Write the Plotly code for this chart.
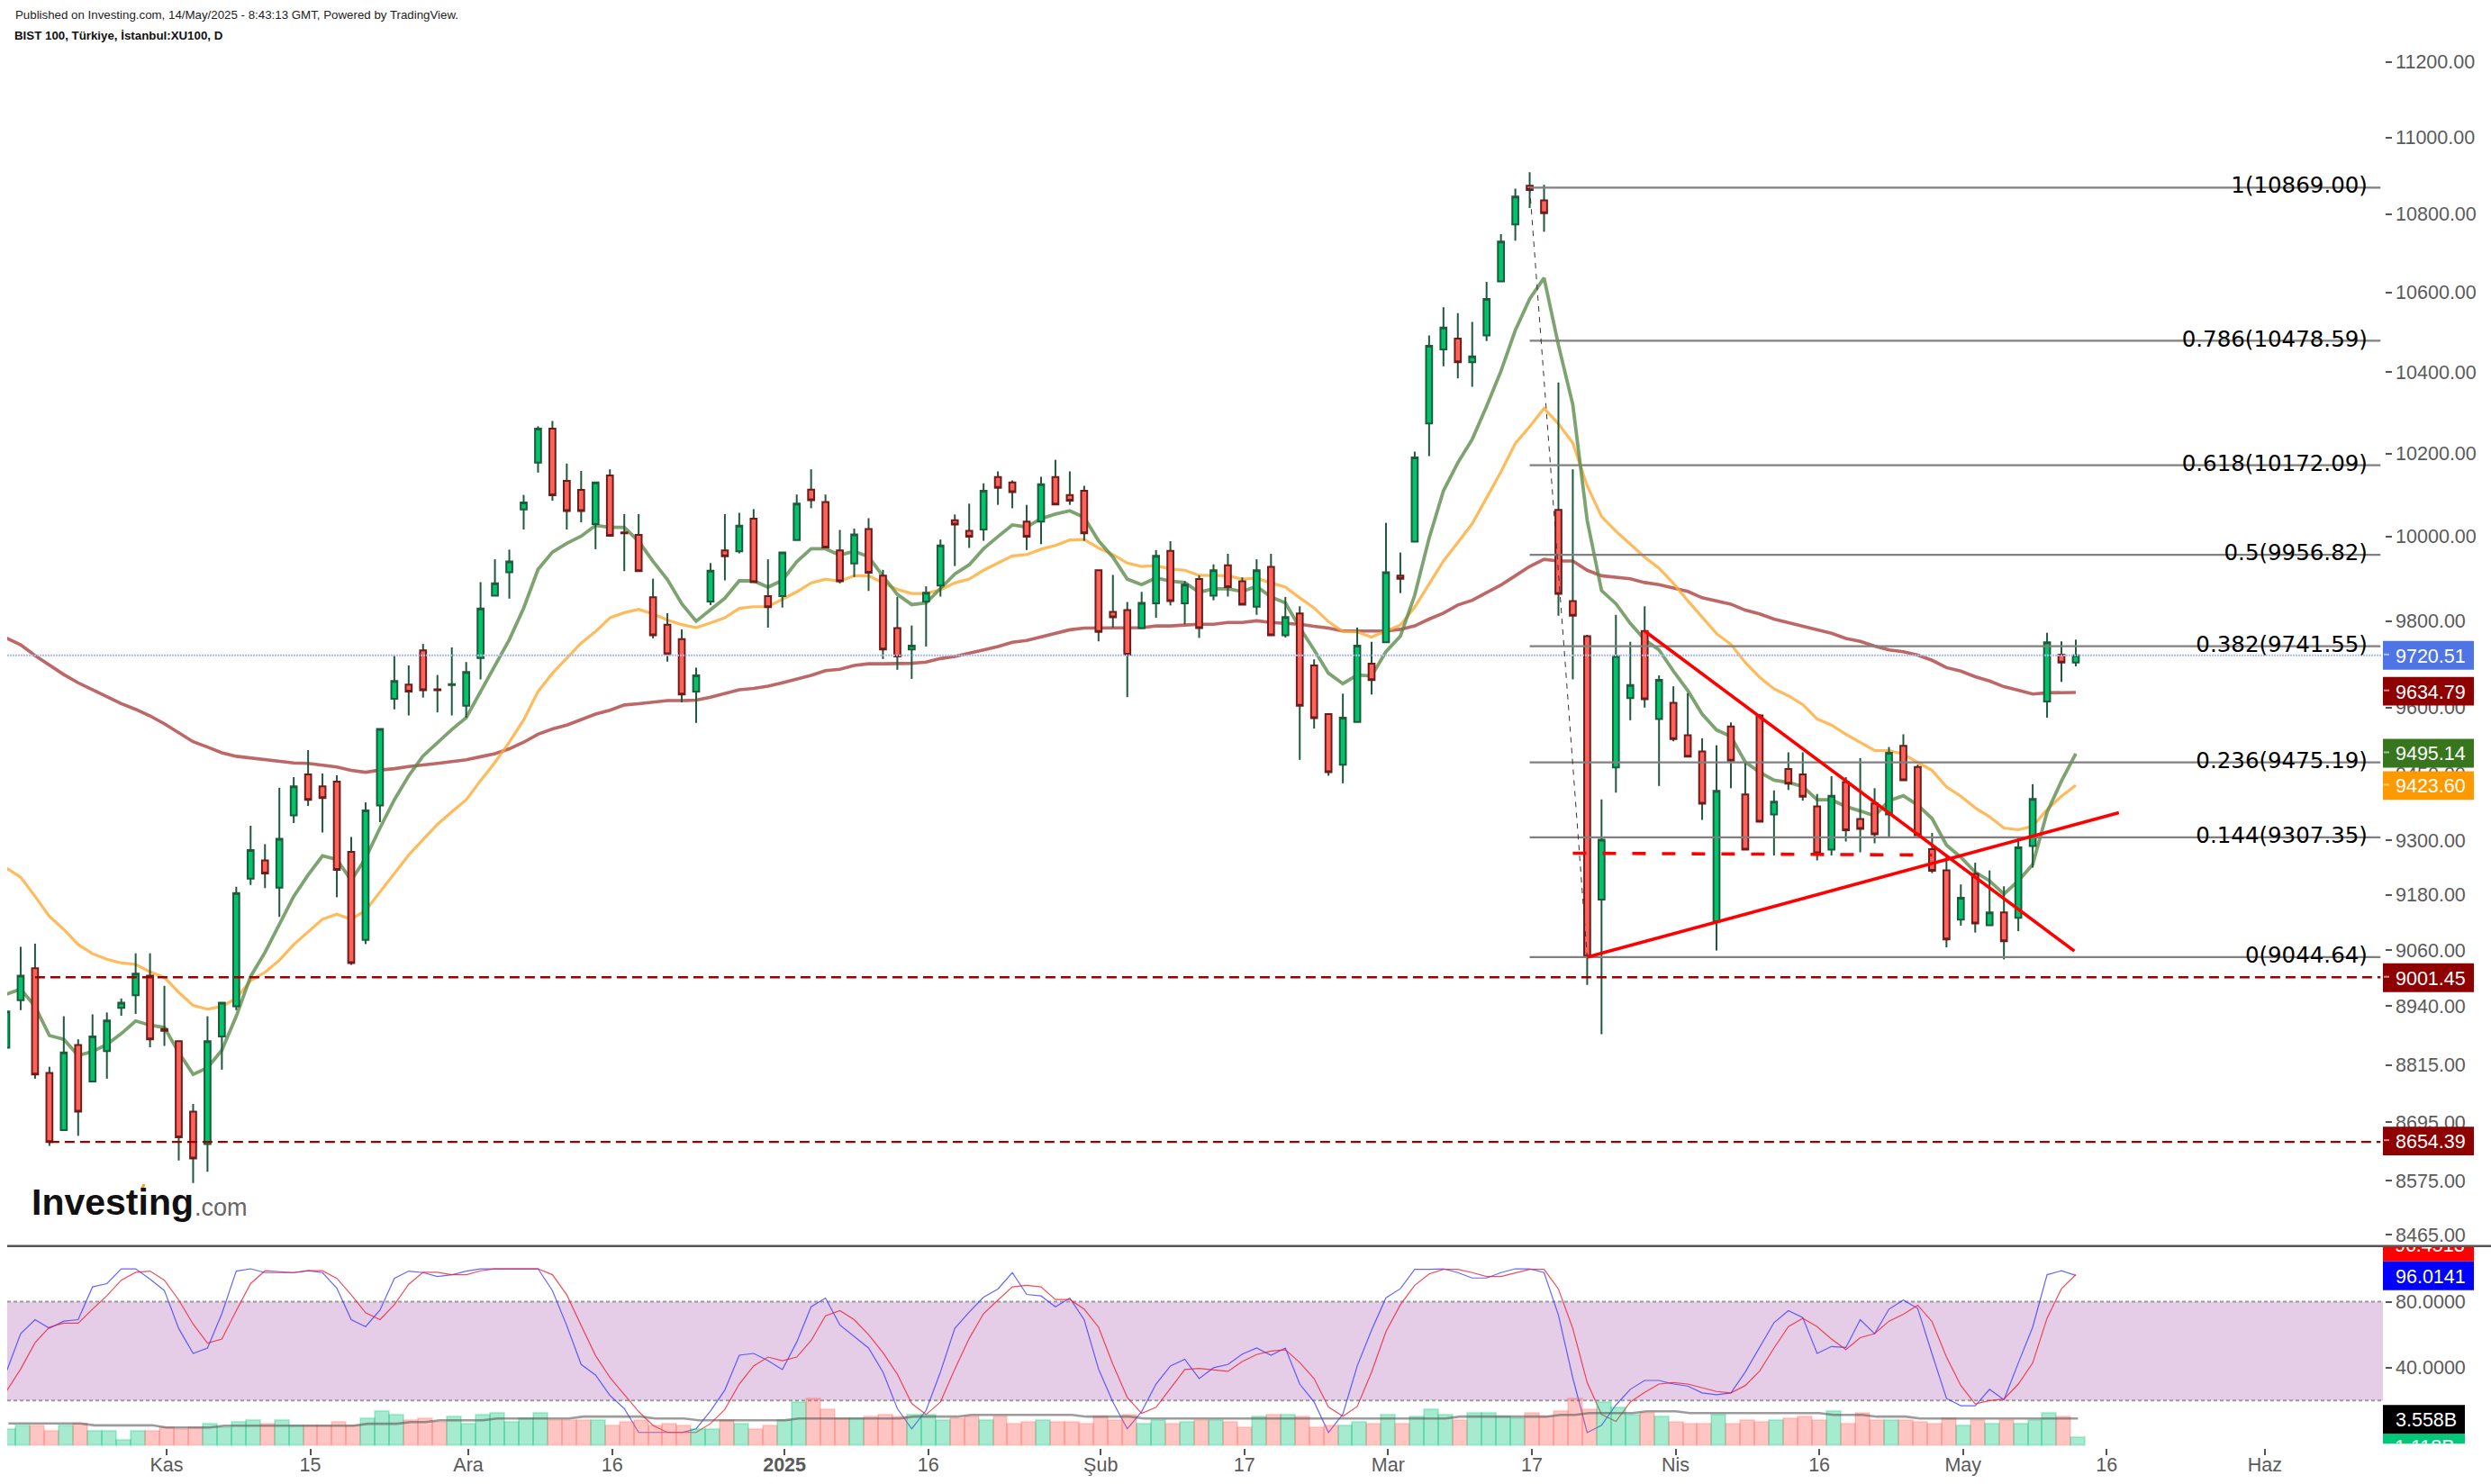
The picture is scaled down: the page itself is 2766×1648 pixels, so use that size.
import math
import plotly.graph_objects as go

W, H = 2766, 1648
opens = [8851,8952,9021,8798,8679,8857,8780,8844,8936,8963,9005,8891,8865,8717,8650,8875,8939,9216,9256,9196,
9356,9448,9421,9432,9275,9082,9378,9620,9653,9732,9642,9652,9604,9714,9860,9915,10065,10178,10261,10134,
10112,10030,10147,10010,10004,9856,9792,9758,9637,9846,9967,9965,10043,9859,9859,9992,10113,10083,9967,9936,
10018,9907,9784,9734,9846,9884,10039,10014,10017,10143,10130,10036,10036,10143,10100,10110,9920,9822,9826,9784,
9842,9966,9842,9899,9860,9932,9894,9834,9928,9767,9818,9697,9585,9470,9567,9701,9751,9907,9988,10274,
10457,10484,10425,10492,10628,10774,10874,10836,10064,9847,9765,9170,9464,9622,9777,9574,9611,9537,9500,9122,
9557,9403,9582,9358,9460,9448,9376,9280,9431,9348,9383,9358,9513,9465,9281,9234,9126,9226,9114,9142,
9130,9288,9614,9722,9704]
highs = [8960,9067,9074,8811,8918,8869,8922,8926,8956,9053,9053,8983,8866,8733,8918,8947,9198,9333,9292,9418,
9442,9503,9450,9446,9308,9385,9551,9722,9697,9747,9675,9739,9705,9892,9946,9969,10100,10267,10280,10176,
10158,10130,10162,10054,10054,9900,9819,9781,9692,9937,10054,10057,10066,9946,9963,10101,10162,10101,10016,10019,
10044,9921,9857,9790,9882,9993,10053,10079,10128,10157,10135,10076,10144,10185,10157,10122,9921,9909,9845,9869,
9968,9989,9894,9908,9934,9959,9903,9946,9959,9857,9835,9711,9586,9632,9785,9752,10033,9962,10205,10492,
10563,10548,10526,10627,10749,10866,10909,10876,10375,10162,9768,9392,9815,9752,9835,9674,9649,9633,9530,9514,
9566,9476,9585,9412,9498,9498,9404,9444,9442,9485,9417,9510,9539,9470,9317,9264,9203,9251,9234,9199,
9309,9426,9773,9753,9757]
lows = [8851,8931,8786,8646,8679,8667,8780,8786,8919,8923,8852,8855,8616,8570,8593,8805,8931,9202,9195,9132,
9339,9377,9318,9175,9028,9073,9341,9596,9582,9623,9589,9582,9577,9665,9860,9853,10017,10154,10086,10017,
10034,9970,10002,9918,9918,9760,9706,9612,9565,9838,9896,9960,9892,9785,9832,9992,10068,9974,9889,9904,
9871,9712,9687,9666,9741,9858,9930,9973,9990,10076,10068,9968,9982,10077,10076,9990,9753,9785,9624,9784,
9808,9837,9793,9761,9849,9858,9839,9815,9767,9762,9481,9552,9445,9428,9567,9630,9751,9866,9988,10194,
10415,10385,10364,10478,10628,10732,10816,10755,9813,9665,8985,8880,9407,9571,9600,9422,9523,9488,9346,9059,
9417,9280,9342,9267,9413,9389,9256,9267,9298,9274,9294,9309,9435,9312,9228,9066,9113,9098,9114,9040,
9101,9240,9577,9659,9695]
closes = [8928,9005,8795,8654,8841,8717,8875,8909,8947,9009,8869,8887,8664,8620,8865,8947,9184,9279,9227,9304,
9421,9391,9395,9235,9032,9367,9551,9661,9637,9640,9640,9654,9682,9830,9889,9941,10082,10261,10099,10061,
10061,10130,10002,10008,9918,9767,9723,9630,9674,9919,9953,10026,9892,9833,9962,10079,10087,9974,9894,10005,
9914,9734,9718,9743,9867,9979,10029,10000,10110,10117,10107,10000,10126,10077,10086,10008,9775,9809,9722,9843,
9954,9847,9886,9784,9920,9880,9839,9920,9767,9810,9604,9576,9453,9577,9743,9663,9915,9900,10191,10466,
10512,10425,10440,10584,10730,10846,10863,10803,9864,9813,9046,9302,9719,9652,9619,9664,9528,9488,9382,9411,
9479,9280,9342,9387,9427,9398,9272,9400,9323,9326,9314,9497,9435,9312,9233,9083,9174,9118,9142,9079,
9285,9393,9751,9704,9720.51]
ma_fast = [8965,8976,8939,8877,8869,8835,8843,8858,8881,8908,8899,8894,8841,8795,8809,8846,8918,9003,9055,9116,
9177,9224,9266,9258,9212,9261,9328,9391,9445,9490,9520,9550,9577,9637,9697,9757,9831,9922,9963,9984,
10001,10027,10022,10022,9989,9941,9898,9841,9800,9827,9854,9895,9895,9880,9896,9940,9971,9971,9956,9965,
9952,9906,9863,9839,9843,9877,9911,9933,9971,10000,10028,10023,10043,10054,10062,10046,9990,9951,9899,9886,
9902,9894,9891,9868,9876,9876,9870,9882,9857,9843,9785,9733,9679,9655,9675,9673,9729,9765,9861,9996,
10110,10178,10235,10316,10403,10505,10584,10637,10468,10320,10039,9872,9841,9795,9757,9733,9684,9639,9585,9549,
9534,9476,9453,9435,9430,9421,9391,9391,9376,9366,9355,9389,9400,9379,9349,9290,9263,9230,9211,9182,
9211,9247,9363,9433,9495.14]
ma_mid = [9239,9219,9177,9133,9105,9072,9052,9040,9032,9029,9013,9001,8969,8941,8933,8939,8956,8994,9012,9038,
9072,9100,9127,9138,9127,9146,9186,9226,9268,9302,9336,9364,9391,9434,9475,9521,9572,9637,9679,9714,
9749,9776,9808,9820,9828,9817,9803,9792,9785,9796,9808,9830,9834,9834,9852,9869,9890,9899,9894,9907,
9907,9890,9875,9865,9865,9874,9890,9899,9920,9937,9954,9957,9970,9979,9992,9993,9973,9957,9937,9929,
9931,9923,9920,9908,9907,9907,9899,9901,9890,9880,9855,9831,9799,9776,9775,9763,9777,9791,9833,9886,
9942,9986,10031,10093,10156,10225,10266,10311,10273,10226,10122,10048,10013,9982,9951,9925,9889,9848,9810,9771,
9746,9704,9670,9643,9627,9607,9574,9560,9539,9520,9502,9502,9494,9475,9457,9420,9399,9373,9353,9328,
9324,9332,9369,9399,9423.6]
ma_slow = [9761,9745,9720,9697,9676,9657,9641,9626,9609,9596,9581,9563,9542,9522,9510,9497,9489,9485,9481,9477,
9474,9473,9469,9465,9457,9453,9458,9461,9466,9469,9473,9477,9481,9488,9495,9506,9521,9539,9551,9560,
9573,9585,9594,9606,9609,9613,9616,9616,9617,9624,9632,9641,9644,9649,9657,9666,9674,9685,9688,9697,
9701,9701,9701,9702,9705,9713,9718,9725,9733,9741,9751,9755,9763,9771,9780,9784,9784,9784,9784,9785,
9789,9789,9791,9793,9793,9797,9797,9801,9797,9795,9793,9788,9784,9777,9777,9777,9777,9781,9789,9805,
9819,9838,9849,9867,9885,9907,9929,9946,9942,9942,9920,9907,9904,9900,9891,9886,9878,9870,9855,9847,
9840,9826,9817,9805,9797,9788,9781,9772,9760,9753,9742,9733,9729,9721,9709,9692,9684,9671,9661,9648,
9640,9631,9634,9635,9634.79]
stoch_k = [37.3,60.6,69.1,63.9,68.2,69.1,89,91,100,100,93.7,86.8,63.7,48.6,51.9,72.8,98.6,100,97.7,97.7,
97.7,98.8,97.7,88.2,69.1,64.9,74.9,94.2,98.6,97.7,95.3,96.4,98.6,99.9,100,100,100,100,86.8,65.5,
41.9,35.5,23.1,15.1,0.6,0.6,0.6,0.6,2.8,13.7,26.4,47.5,48.6,44.2,38.8,55.5,76.9,82.2,65.9,59.1,
51.9,37.3,15.1,2.8,14,37.3,63.9,73.7,82.8,87.7,97.7,84.4,83.5,76.9,82.2,69.1,39.1,19.1,2.8,13.3,
30,41,45.1,33.3,39.9,41.9,48.2,51.9,47.5,51.9,30,19.1,0.6,11.7,41,62.8,82.4,87.9,99.7,99.7,
100,97.7,94.4,94.4,97.7,100,100,97.7,71.9,33.7,0.5,5,17.3,26.8,32.2,32.2,30,28.8,24.6,23.5,
24.6,37.3,52.2,67.3,74.6,70.4,48.6,52.8,52.2,69.1,60.6,75.5,81,75.9,48.2,21.3,16.8,16.8,26.8,20.4,
42.8,64.6,96.4,98.8,96.0141]
stoch_d = [25.5,39.1,55.1,64.6,67,67,75.5,83.7,93.1,97.9,98.6,93.1,81,66.4,54.9,57.3,74.6,91,98.8,98.2,
97.7,98.8,98.8,94.2,84.2,73.3,69.1,78.2,90.6,97.9,97.9,96.4,96.4,98.8,99.9,100,100,100,96.4,84.2,
65.5,47.3,34,23.7,13.3,4.9,0.6,0.6,0.6,6,14.6,30,41,46.4,44.2,46.4,56.4,71.5,74.6,69.1,
60,49.1,36,18.2,11.5,19.1,39.1,57.7,72.8,81,89,90,89,81.3,81.3,75.5,64.6,41.9,21.9,12.2,
15.9,27.3,38.8,39.5,38.6,37.7,43.7,47.9,50,50.9,43.1,33.3,16,10.4,16.4,37.3,61.9,78.2,90,96.9,
99.7,99.7,97.7,95.3,95.3,97.7,99.7,99.7,87.7,63.7,30.9,11.5,7.3,19.1,24.9,30,30.9,30,27.7,25.5,
24.6,29.1,37.9,51.9,64.9,70,64.9,57.3,50.9,58.2,60.6,68.2,72.4,77.9,67.9,46.4,29.1,17.9,20,20.9,
30,42.8,70,87.9,96.4513]
volume_b = [2.21,2.69,2.69,1.98,2.69,2.93,1.98,1.98,0.79,1.98,1.98,2.45,2.21,2.45,2.93,2.45,3.16,3.40,2.93,3.40,
2.69,2.69,2.69,3.16,2.69,3.64,4.59,4.11,3.40,3.64,3.16,3.87,2.93,4.11,4.35,3.16,3.64,4.35,3.40,3.40,
3.40,3.40,2.69,3.16,3.40,2.69,2.93,2.69,2.21,2.21,3.40,2.93,2.21,2.69,3.32,5.77,6.25,4.82,3.64,3.64,
3.87,4.11,3.87,4.11,4.11,3.40,3.64,3.87,3.40,3.87,2.93,3.16,3.40,3.16,3.16,2.93,3.87,3.40,4.11,2.93,
3.40,2.93,3.16,3.40,3.40,3.16,2.45,3.87,4.11,4.11,3.87,2.45,2.69,2.69,3.16,2.93,4.11,2.93,3.87,4.82,
4.11,3.40,4.35,4.35,3.87,3.64,4.35,3.87,4.59,6.25,4.82,5.77,5.06,4.11,4.35,3.87,3.16,2.93,2.93,4.11,
2.93,3.40,3.16,3.40,3.64,3.87,3.40,4.59,2.93,4.35,3.40,3.40,3.40,3.16,2.93,3.64,2.69,3.40,2.93,3.40,
2.93,3.40,4.35,3.87,1.118]
volume_ma = [2.89,2.89,2.89,2.89,2.89,2.89,2.65,2.65,2.65,2.65,2.65,2.37,2.37,2.37,2.37,2.61,2.61,2.61,2.61,2.61,
2.61,2.61,2.61,2.61,2.61,2.85,2.85,2.85,3.08,3.08,3.32,3.32,3.32,3.32,3.56,3.56,3.56,3.56,3.56,3.56,
3.80,3.80,3.80,3.80,3.80,3.56,3.56,3.56,3.32,3.32,3.32,3.32,3.32,3.32,3.32,3.56,3.56,3.56,3.56,3.56,
3.56,3.56,3.56,3.80,3.80,3.80,3.80,4.03,4.03,4.03,4.03,4.03,4.03,4.03,4.03,3.80,3.80,3.80,3.80,3.56,
3.56,3.56,3.56,3.56,3.56,3.56,3.56,3.56,3.56,3.56,3.56,3.56,3.56,3.56,3.56,3.56,3.56,3.56,3.56,3.56,
3.56,3.80,3.80,3.80,3.80,3.80,3.80,3.80,4.03,4.03,4.27,4.27,4.27,4.27,4.51,4.51,4.51,4.27,4.27,4.27,
4.27,4.27,4.27,4.27,4.27,4.27,4.27,4.03,4.03,4.03,3.80,3.80,3.80,3.56,3.56,3.56,3.56,3.56,3.56,3.56,
3.56,3.56,3.56,3.56,3.558]
fib_levels = [10869.00,10478.59,10172.09,9956.82,9741.55,9475.19,9307.35,9044.64]
fib_names = ["1(10869.00)","0.786(10478.59)","0.618(10172.09)","0.5(9956.82)","0.382(9741.55)","0.236(9475.19)","0.144(9307.35)","0(9044.64)"]
price_ticks = [11200,11000,10800,10600,10400,10200,10000,9800,9600,9450,9300,9180,9060,8940,8815,8695,8575,8465]
date_ticks = [11,21,32,42,54,64,76,86,96,106,116,126,136,146,157]
date_labels = ["Kas","15","Ara","16","<b>2025</b>","16","Şub","17","Mar","17","Nis","16","May","16","Haz"]
support_levels = [9001.45, 8654.39]
support_starts = [2, 3]

idx = list(range(len(closes)))
tick_shift = 0.15
ARIAL = "Liberation Sans"
GREY = "#5a5a5a"
X_MIN, X_MAX = 0.063, 165.37

def px(x): return x / W
def py(y): return 1 - y / H

fig = go.Figure()
common = dict(showlegend=False, hoverinfo="skip")

# moving averages sit behind the candles
for series, col, wd in [(ma_slow, "rgba(176,70,70,0.82)", 3.6),
                        (ma_mid, "rgba(255,170,50,0.80)", 3.2),
                        (ma_fast, "rgba(88,138,72,0.78)", 3.8)]:
    fig.add_trace(go.Scatter(x=idx, y=series, mode="lines", line=dict(color=col, width=wd), zorder=0, **common))

# thin dashed fib guide
fig.add_trace(go.Scatter(x=[106, 110], y=[fib_levels[0], fib_levels[-1]], mode="lines",
                         line=dict(color="#333333", width=1, dash="6px,6px"), zorder=4, **common))

# wicks
wx, wy = [], []
for i in idx:
    wx += [i, i, None]
    wy += [lows[i], highs[i], None]
fig.add_trace(go.Scatter(x=wx, y=wy, mode="lines", line=dict(color="#1e5a3c", width=2), zorder=1, **common))

# bodies
fig.add_trace(go.Candlestick(
    x=idx, open=opens, close=closes,
    high=[max(a, b) for a, b in zip(opens, closes)],
    low=[min(a, b) for a, b in zip(opens, closes)],
    increasing=dict(line=dict(color="#1e5a3c", width=2), fillcolor="#00c46c"),
    decreasing=dict(line=dict(color="#6d1c1c", width=2), fillcolor="#ff6258"),
    whiskerwidth=0, showlegend=False, hoverinfo="skip", zorder=2))

# current price line
fig.add_trace(go.Scatter(x=[X_MIN, 165.3], y=[closes[-1], closes[-1]], mode="lines",
                         line=dict(color="#a8bcf2", width=2, dash="2px,1px"), zorder=3, **common))

# fib lines and captions
for lv in fib_levels:
    fig.add_trace(go.Scatter(x=[106, 165.2], y=[lv, lv], mode="lines",
                             line=dict(color="#808080", width=2.2), zorder=3, **common))
fig.add_trace(go.Scatter(x=[164.3] * len(fib_levels), y=fib_levels, mode="text", text=fib_names,
                         textposition="middle left",
                         textfont=dict(family="DejaVu Sans", size=24.5, color="#000000"), zorder=6, **common))

# support lines
for lv, st in zip(support_levels, support_starts):
    fig.add_trace(go.Scatter(x=[st, 165.2], y=[lv, lv], mode="lines",
                             line=dict(color="#990000", width=2.4, dash="11px,6px"), zorder=3, **common))

# drawn trend lines
for xs, ys, dash in [([114, 143.9], [9777, 9058], None),
                     ([110, 147], [9044.64, 9362], None),
                     ([109, 134], [9272, 9268], "15px,18px")]:
    fig.add_trace(go.Scatter(x=xs, y=ys, mode="lines",
                             line=dict(color="#ff0000", width=3.6, dash=dash), zorder=5, **common))

# lower pane: volume
vol_cols = ["rgba(0,196,120,0.35)" if c >= o else "rgba(255,90,80,0.35)" for o, c in zip(opens, closes)]
vol_edge = ["rgba(0,196,120,0.22)" if c >= o else "rgba(255,90,80,0.18)" for o, c in zip(opens, closes)]
fig.add_trace(go.Bar(x=[i + tick_shift for i in idx], y=volume_b, xaxis="x2", yaxis="y3",
                     marker=dict(color=vol_cols, line=dict(color=vol_edge, width=2)), width=1.0, **common))
fig.add_trace(go.Scatter(x=[i + tick_shift for i in idx], y=volume_ma, xaxis="x2", yaxis="y3", mode="lines",
                         line=dict(color="rgba(90,90,90,0.6)", width=2.6), **common))
# lower pane: stochastic
fig.add_trace(go.Scatter(x=idx, y=stoch_k, xaxis="x2", yaxis="y2", mode="lines",
                         line=dict(color="rgba(50,50,255,0.75)", width=1.2), **common))
fig.add_trace(go.Scatter(x=idx, y=stoch_d, xaxis="x2", yaxis="y2", mode="lines",
                         line=dict(color="rgba(240,30,50,0.8)", width=1.2), **common))

# clipped captions in the right gutter
clip_labels = [("96.4513", 0.995), ("1.118B", -0.023)]
fig.add_trace(go.Scatter(x=[0.108, 0.108], y=[v for _, v in clip_labels], xaxis="x3", yaxis="y4", mode="text",
                         text=[t for t, _ in clip_labels], textposition="middle right", cliponaxis=True,
                         textfont=dict(family=ARIAL, size=21.5, color="#ffffff"), **common))

shapes = []
annos = []
def box(y0, y1, col, x1=2747, layer="above"):
    shapes.append(dict(type="rect", xref="paper", yref="paper", x0=px(2646), x1=px(x1), y0=py(y1), y1=py(y0),
                       fillcolor=col, line=dict(width=0), layer=layer))
def label(text, y, col="#ffffff"):
    annos.append(dict(text=text, xref="paper", yref="paper", x=px(2658), y=py(y), xanchor="left", yanchor="middle",
                      showarrow=False, font=dict(family=ARIAL, size=21.5, color=col)))

for txt, y0, col in [("9720.51", 711, "#4f74e6"), ("9634.79", 751, "#8f0000"), ("9495.14", 820, "#38761d"),
                     ("9423.60", 856, "#ff9900"), ("9001.45", 1070, "#8f0000"), ("8654.39", 1252, "#8f0000")]:
    box(y0, y0 + 32, col)
    label(txt, y0 + 17)
    shapes.append(dict(type="line", xref="paper", yref="paper", x0=px(2647), x1=px(2653), y0=py(y0 + 15), y1=py(y0 + 15),
                       line=dict(color="rgba(255,255,255,0.55)", width=2)))
box(1385, 1402, "#ff0000", layer="below")
box(1402, 1434, "#0000ff")
label("96.0141", 1419)
box(1562, 1594, "#000000", x1=2737)
label("3.558B", 1579)
box(1594, 1605, "#00c878", x1=2737, layer="below")

# pane divider
shapes.append(dict(type="line", xref="paper", yref="paper", x0=px(8), x1=1, y0=py(1385), y1=py(1385),
                   line=dict(color="#555555", width=2.6)))
# overbought/oversold band
shapes.append(dict(type="rect", xref="x2", yref="y2", x0=X_MIN, x1=X_MAX, y0=20, y1=80,
                   fillcolor="#e5cde8", line=dict(width=0), layer="below"))
for lv in (20, 80):
    shapes.append(dict(type="line", xref="x2", yref="y2", x0=X_MIN, x1=X_MAX, y0=lv, y1=lv,
                       line=dict(color="#9a9a9a", width=2, dash="4px,3px"), layer="below"))
# logo accent
shapes.append(dict(type="line", xref="paper", yref="paper", x0=px(157), x1=px(160), y0=py(1323), y1=py(1316),
                   line=dict(color="#f7a21b", width=3)))

annos += [
    dict(text="Published on Investing.com, 14/May/2025 - 8:43:13 GMT, Powered by TradingView.", xref="paper", yref="paper",
         x=px(15), y=py(14), xanchor="left", yanchor="middle", showarrow=False,
         font=dict(family=ARIAL, size=13.3, color="#222222")),
    dict(text="<b>BIST 100, Türkiye, İstanbul:XU100, D</b>", xref="paper", yref="paper",
         x=px(14), y=py(37), xanchor="left", yanchor="middle", showarrow=False,
         font=dict(family=ARIAL, size=13.3, color="#111111")),
    dict(text="<b>Investing</b>", xref="paper", yref="paper", x=px(33), y=py(1336), xanchor="left", yanchor="middle",
         showarrow=False, font=dict(family=ARIAL, size=41, color="#111111")),
    dict(text=".com", xref="paper", yref="paper", x=px(214), y=py(1342), xanchor="left", yanchor="middle",
         showarrow=False, font=dict(family=ARIAL, size=27, color="#666666")),
]

fig.update_layout(
    width=W, height=H, autosize=False, margin=dict(l=0, r=0, t=0, b=0),
    paper_bgcolor="white", plot_bgcolor="rgba(0,0,0,0)", showlegend=False, bargap=0, boxgap=0.58, boxgroupgap=0,
    hovermode=False, shapes=shapes, annotations=annos, dragmode=False,
    xaxis=dict(domain=[px(8), px(2646)], range=[X_MIN, X_MAX], visible=False, anchor="y", fixedrange=True,
               rangeslider=dict(visible=False)),
    yaxis=dict(domain=[py(1383), py(58)], type="log", range=[math.log10(8445.4), math.log10(11219.2)], side="right",
               anchor="x", tickmode="array", tickvals=price_ticks, ticktext=[f"{v:.2f}" for v in price_ticks],
               ticks="outside", ticklen=7, tickwidth=2, tickcolor="#555555", showgrid=False, zeroline=False,
               showline=True, linecolor="#555555", linewidth=2.6, tickfont=dict(family=ARIAL, size=21.5, color=GREY),
               fixedrange=True),
    xaxis2=dict(domain=[px(8), px(2646)], range=[X_MIN, X_MAX], anchor="y2", tickmode="array",
                tickvals=[d + tick_shift for d in date_ticks], ticktext=date_labels, ticks="outside", ticklen=7,
                tickwidth=2, tickcolor="#555555", showgrid=False, zeroline=False, showline=True, linecolor="#555555",
                linewidth=2.6, tickfont=dict(family=ARIAL, size=21.5, color=GREY), ticklabelstandoff=-8, fixedrange=True),
    yaxis2=dict(domain=[py(1608), py(1385)], range=[-7.8, 113.8], side="right", anchor="x2", tickmode="array",
                tickvals=[80, 40], ticktext=["80.0000", "40.0000"], ticks="outside", ticklen=7, tickwidth=2,
                tickcolor="#555555", showgrid=False, zeroline=False, showline=True, linecolor="#555555", linewidth=2.6,
                tickfont=dict(family=ARIAL, size=21.5, color=GREY), fixedrange=True),
    yaxis3=dict(domain=[py(1608), py(1385)], overlaying="y2", range=[-0.12, 26.33], visible=False, anchor="x2",
                fixedrange=True),
    xaxis3=dict(domain=[px(2646), 1], range=[0, 1], visible=False, anchor="y4", fixedrange=True),
    yaxis4=dict(domain=[py(1605), py(1385)], range=[0, 1], visible=False, anchor="x3", fixedrange=True),
)

fig.write_html("out.html", config=dict(displayModeBar=False),
               post_script="document.body.style.margin='0';document.body.style.overflow='hidden';")
